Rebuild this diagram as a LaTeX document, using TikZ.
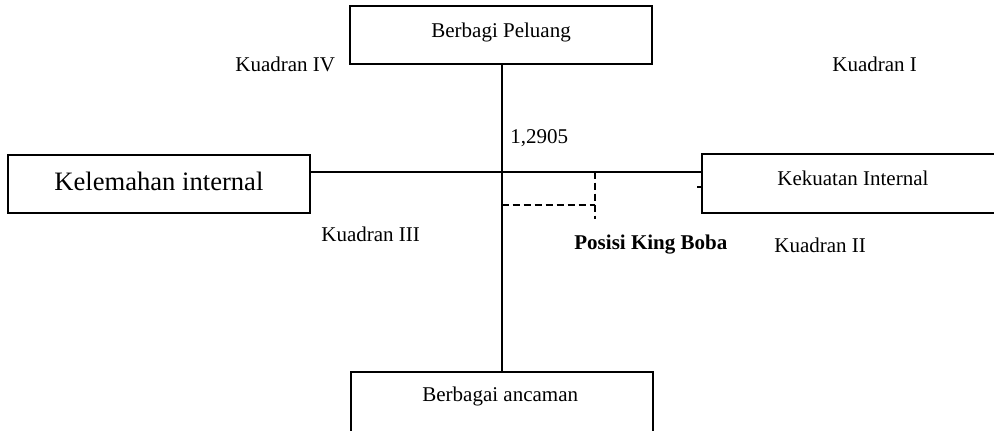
\documentclass[tikz,border=0pt]{standalone}
\usepackage{fontspec}
\setmainfont{Liberation Serif}
\begin{document}
\begin{tikzpicture}[x=0.5pt,y=-0.5pt,
  box/.style={draw,line width=1pt,rectangle,inner sep=0pt},
  axis/.style={line width=1pt},
  lbl/.style={inner sep=0pt,anchor=base west,font=\fontsize{10.5}{12}\selectfont},
  guide/.style={line width=0.8pt,dash pattern=on 3.5pt off 2pt}]
\useasboundingbox (0,0) rectangle (994,430);
\clip (0,0) rectangle (994,430);
% boxes
\node[box,minimum width=151pt,minimum height=29pt] (top) at (501,35) {};
\node[box,minimum width=151pt,minimum height=40pt] (bot) at (501.5,412) {};
\node[box,minimum width=151pt,minimum height=29pt] (left) at (159,184) {};
\node[box,minimum width=160pt,minimum height=29.5pt] (right) at (862,183.5) {};
% box texts
\node[lbl] (tTop) at (431,37) {Berbagi Peluang};
\node[lbl] (tBot) at (422,401) {Berbagai ancaman};
\node[lbl,font=\fontsize{13.3}{15}\selectfont] (tLeft) at (54,190) {Kelemahan internal};
\node[lbl] (tRight) at (777,185) {Kekuatan Internal};
% axes
\coordinate (c) at (501.5,171.5);
\draw[axis] (top.south -| c) -- (bot.north -| c);
\draw[axis] (left.east |- c) -- (right.west |- c);
\coordinate (tk1) at (697,187);
\draw[line width=0.6pt] (tk1) -- (right.west |- tk1);
% dashed position
\coordinate (p1) at (595,171.5);
\coordinate (p2) at (595,219);
\coordinate (p3) at (501.5,205);
\draw[guide] (p1) -- (p2);
\draw[guide] (p3) -- (p3 -| p1);
% labels
\node[lbl] (val) at (510,143) {1,2905};
\node[lbl,font=\fontsize{10.5}{12}\selectfont\bfseries] (pos) at (574,249) {Posisi King Boba};
\node[lbl] (q4) at (235,71) {Kuadran IV};
\node[lbl] (q1) at (832,71) {Kuadran I};
\node[lbl] (q3) at (321,241) {Kuadran III};
\node[lbl] (q2) at (774,252) {Kuadran II};
\end{tikzpicture}
\end{document}
